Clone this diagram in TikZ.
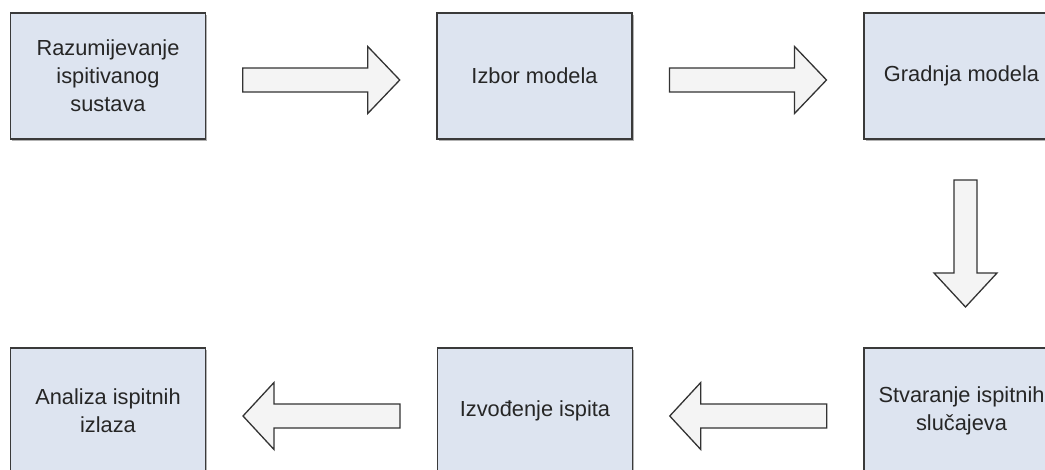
\documentclass[tikz,border=0pt]{standalone}
\usepackage{fontspec}
\setmainfont{Liberation Sans}
\usetikzlibrary{shadows,calc}
\definecolor{boxfill}{HTML}{DDE4F0}
\definecolor{boxline}{HTML}{3A3A3A}
\definecolor{arrowfill}{HTML}{F4F4F4}
\definecolor{arrowline}{HTML}{333333}
\definecolor{textcol}{HTML}{262626}
\begin{document}
\begin{tikzpicture}[x=1pt,y=-1pt,
  stepbox/.style={draw=boxline, line width=1.3pt, fill=boxfill,
    minimum width=195pt, minimum height=126pt, inner sep=0pt,
    align=center, text=textcol,
    font=\fontsize{21.8}{28}\selectfont,
    drop shadow={shadow xshift=1.6pt, shadow yshift=-1.6pt, opacity=0.5, fill=black!60}},
  arrowbody/.style={draw=arrowline, line width=1.3pt, fill=arrowfill, line join=miter},
  % block arrow centred on the pic origin, pointing along +x:
  % total length / half shaft width / half head width / head length
  pics/blockarrow/.style args={#1/#2/#3/#4}{code={
    \draw[arrowbody] (-#1/2,-#2) -- (#1/2-#4,-#2) -- (#1/2-#4,-#3) -- (#1/2,0)
      -- (#1/2-#4,#3) -- (#1/2-#4,#2) -- (-#1/2,#2) -- cycle;
  }}
]
\useasboundingbox (0,0) rectangle (1045,469);

% top row
\node[stepbox] (razum)   at (108,76)    {Razumijevanje\\ispitivanog\\sustava};
\node[stepbox] (izbor)   at (534.5,76)  {Izbor modela};
\node[stepbox] (gradnja) at (961.5,76)  {Gradnja modela};

% bottom row
\node[stepbox] (analiza) at (108,411)   {Analiza ispitnih\\izlaza};
\node[stepbox] (izvod)   at (535,411)   {Izvođenje ispita};
\node[stepbox] (stvar)   at (961.5,411) {Stvaranje ispitnih\\slučajeva};

% centres of the block arrows between the steps
\coordinate (m1) at ($($(razum.east)!0.5!(izbor.west)$)+(0,4)$);
\coordinate (m2) at ($($(izbor.east)!0.5!(gradnja.west)$)+(0,4)$);
\coordinate (m3) at ($($(gradnja.south)!0.5!(stvar.north)$)+(4,0)$);
\coordinate (m4) at ($($(stvar.west)!0.5!(izvod.east)$)+(0,5)$);
\coordinate (m5) at ($($(izvod.west)!0.5!(analiza.east)$)+(0,5)$);

\pic at (m1) {blockarrow={157/12/33.5/32}};
\pic at (m2) {blockarrow={157/12/33.5/32}};
\pic[rotate=-90] at (m3) {blockarrow={127/11.5/31.5/34}};
\pic[rotate=180] at (m4) {blockarrow={157/12/33.5/31}};
\pic[rotate=180] at (m5) {blockarrow={157/12/33.5/31}};
\end{tikzpicture}
\end{document}
